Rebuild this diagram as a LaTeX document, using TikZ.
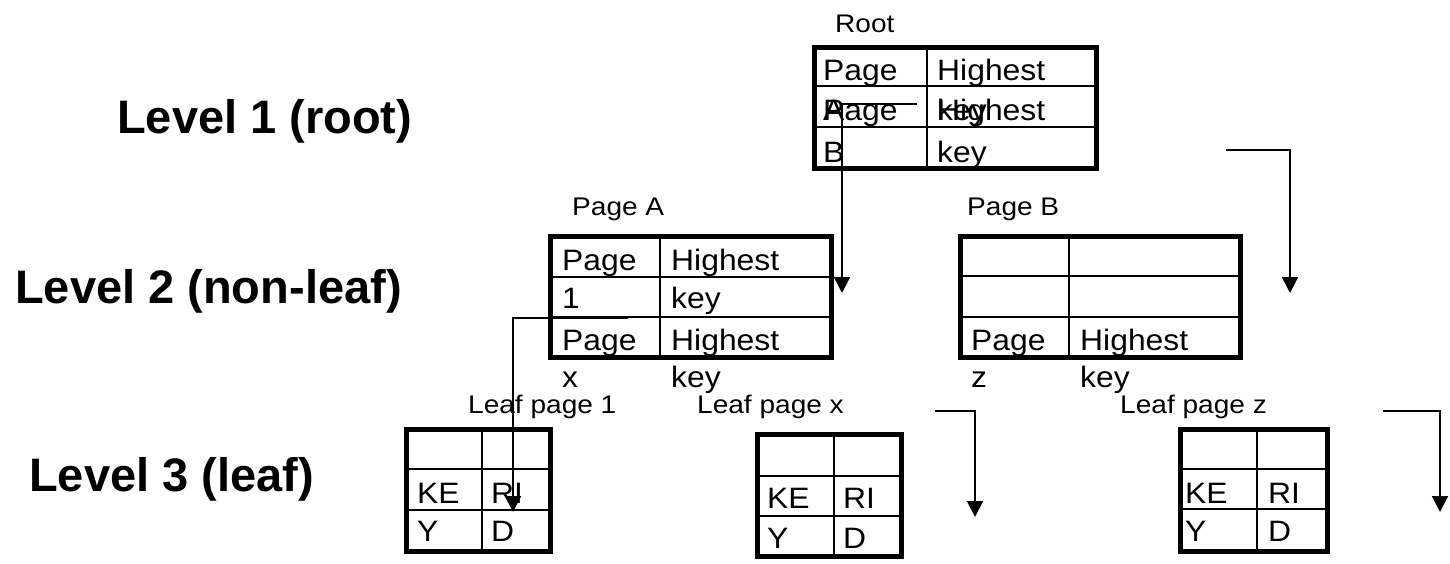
\documentclass[tikz,border=0pt]{standalone}
\usepackage{fontspec}
\setmainfont{Liberation Sans}
\newfontfamily\cellfont[FakeStretch=1.08]{Liberation Sans}
\newfontfamily\tagfont[FakeStretch=1.1]{Liberation Sans}
\usetikzlibrary{arrows.meta}

\tikzset{
  celltext/.style={anchor=base west, inner sep=0pt, font=\cellfont\fontsize{29.5}{35}\selectfont},
  tag/.style={anchor=base west, inner sep=0pt, font=\tagfont\fontsize{25.5}{30}\selectfont},
  level/.style={anchor=base west, inner sep=0pt, font=\bfseries\fontsize{47}{56}\selectfont},
  pageframe/.style={draw, line width=5pt, inner sep=0pt, outer sep=0pt, rectangle},
  rule/.style={line width=2.4pt},
  ptr/.style={line width=2pt, -{Triangle[length=16pt,width=16pt]}},
}

\begin{document}
\begin{tikzpicture}[x=1pt,y=-1pt]
\useasboundingbox (0,0) rectangle (1450,563);

% level captions
\node[level] (lv1) at (117,133) {Level 1 (root)};
\node[level] (lv2) at (15,303) {Level 2 (non-leaf)};
\node[level] (lv3) at (29,491) {Level 3 (leaf)};

% ---------- root page ----------
\draw[rule] (814,86) -- (1096,86) (814,127) -- (1096,127) (927,47) -- (927,168);
\node[pageframe, minimum width=282pt, minimum height=121pt] (root) at (955,107.5) {};
\node[tag] (rootlbl) at (835,32) {Root};
\node[celltext] (r11) at (823,80) {Page};
\node[celltext] (r12) at (937,80) {Highest};
\node[celltext] (r21) at (823,120) {A};
\node[celltext] (r22) at (937,120) {key};
\node[celltext] (r21b) at (823,120) {Page};
\node[celltext] (r22b) at (937,120) {Highest};
\node[celltext] (r31) at (823,162) {B};
\node[celltext] (r32) at (937,162) {key};

% ---------- page A ----------
\draw[rule] (550,277) -- (831,277) (550,317) -- (831,317) (660,236) -- (660,357);
\node[pageframe, minimum width=281pt, minimum height=121pt] (pa) at (690.5,296.5) {};
\node[tag] (palbl) at (572,215) {Page A};
\node[celltext] (a11) at (562,270) {Page};
\node[celltext] (a12) at (671,270) {Highest};
\node[celltext] (a21) at (562,308) {1};
\node[celltext] (a22) at (671,308) {key};
\node[celltext] (a31) at (562,350) {Page};
\node[celltext] (a32) at (671,350) {Highest};
\node[celltext] (a41) at (562,387) {x};
\node[celltext] (a42) at (671,387) {key};

% ---------- page B ----------
\draw[rule] (960,276) -- (1240,276) (960,317) -- (1240,317) (1069,236) -- (1069,357);
\node[pageframe, minimum width=280pt, minimum height=121pt] (pb) at (1100,296.5) {};
\node[tag] (pblbl) at (967,215) {Page B};
\node[celltext] (b31) at (971,350) {Page};
\node[celltext] (b32) at (1080,350) {Highest};
\node[celltext] (b41) at (971,387) {z};
\node[celltext] (b42) at (1080,387) {key};

% ---------- leaf page 1 ----------
\draw[rule] (406,469) -- (550,469) (406,510) -- (550,510) (482,429) -- (482,551);
\node[pageframe, minimum width=144pt, minimum height=122pt] (l1) at (478,490) {};
\node[tag] (l1lbl) at (468,413) {Leaf page 1};
\node[celltext] (l1a) at (417,503) {KE};
\node[celltext] (l1b) at (491,503) {RI};
\node[celltext] (l1c) at (417,541) {Y};
\node[celltext] (l1d) at (491,541) {D};

% ---------- leaf page x ----------
\draw[rule] (757,476) -- (901,476) (757,516) -- (901,516) (834,434) -- (834,556);
\node[pageframe, minimum width=144pt, minimum height=122pt] (lx) at (829,495) {};
\node[tag] (lxlbl) at (697,413) {Leaf page x};
\node[celltext] (lxa) at (767,508) {KE};
\node[celltext] (lxb) at (843,508) {RI};
\node[celltext] (lxc) at (767,548) {Y};
\node[celltext] (lxd) at (843,548) {D};

% ---------- leaf page z ----------
\draw[rule] (1180,469) -- (1327,469) (1180,509) -- (1327,509) (1257,429) -- (1257,551);
\node[pageframe, minimum width=147pt, minimum height=122pt] (lz) at (1253.5,490) {};
\node[tag] (lzlbl) at (1120,413) {Leaf page z};
\node[celltext] (lza) at (1185,503) {KE};
\node[celltext] (lzb) at (1268,503) {RI};
\node[celltext] (lzc) at (1185,541) {Y};
\node[celltext] (lzd) at (1268,541) {D};

% ---------- pointers ----------
\coordinate (pA0) at (917,104);   \coordinate (pA1) at (842,293);
\coordinate (pB0) at (1226,150);  \coordinate (pB1) at (1290,293);
\coordinate (p10) at (628,318);   \coordinate (p11) at (513,512);
\coordinate (px0) at (935,411);   \coordinate (px1) at (975,517);
\coordinate (pz0) at (1383,411);  \coordinate (pz1) at (1440,512);

\draw[ptr] (pA0) -| (pA1);
\draw[ptr] (pB0) -| (pB1);
\draw[ptr] (p10) -| (p11);
\draw[ptr] (px0) -| (px1);
\draw[ptr] (pz0) -| (pz1);
\end{tikzpicture}
\end{document}
